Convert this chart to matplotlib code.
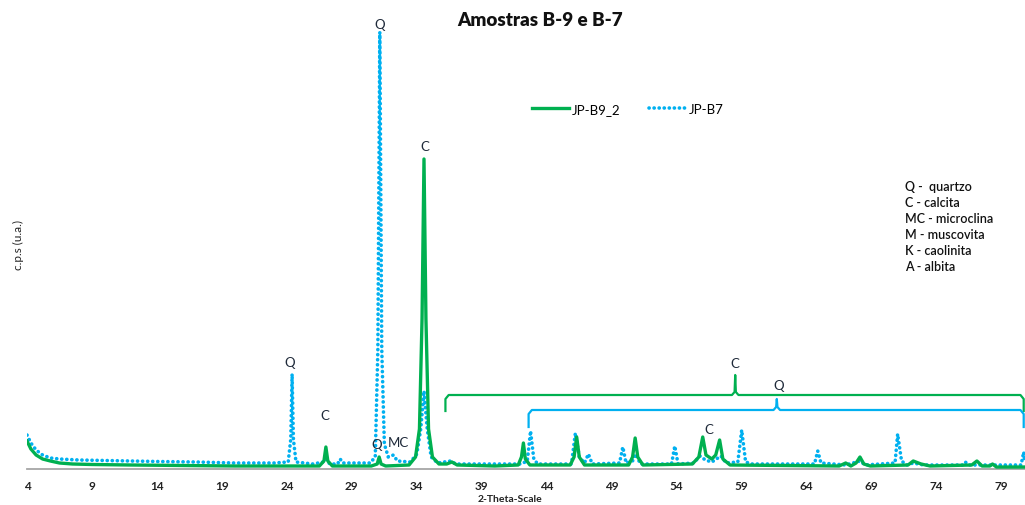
import matplotlib
matplotlib.use("Agg")
import matplotlib.pyplot as plt
import numpy as np

plt.rcParams['font.family'] = ['Lato', 'DejaVu Sans']

# JP-B9_2 trace (2-theta, intensity a.u.)
b9_theta = [4.0, 4.3, 4.7, 5.2, 5.8, 6.5, 7.5, 9, 12, 16, 20, 24, 26.5, 26.85, 27.0, 27.15, 27.5,
            30.5, 30.95, 31.1, 31.25, 31.6, 33.4, 33.9, 34.2, 34.4, 34.55, 34.7, 34.9, 35.2, 35.7,
            36.3, 36.7, 37.1, 40, 41.8, 42.05, 42.2, 42.35, 42.7, 45.8, 46.1, 46.3, 46.5, 46.9,
            50.3, 50.6, 50.8, 51.0, 51.4, 55.2, 55.7, 56.0, 56.25, 56.7, 57.0, 57.3, 57.55, 58.1,
            66.5, 67.0, 67.4, 67.8, 68.1, 68.4, 68.9, 71.8, 72.2, 72.8, 73.5, 76.7, 77.1, 77.5,
            78.1, 78.3, 78.6, 80.8]
b9_cps = [28, 20, 14, 10, 8, 6, 5, 4.5, 4, 3.5, 3, 3, 3, 8, 22, 8, 3,
          3, 5, 12, 5, 3, 4, 12, 40, 150, 310, 150, 40, 12, 5,
          5, 7, 4, 3, 4, 12, 26, 10, 4, 4, 12, 32, 12, 4,
          4, 12, 31, 12, 4, 5, 12, 32, 14, 10, 14, 29, 10, 4,
          3, 6, 3, 6, 12, 5, 3, 4, 8, 5, 3, 4, 8, 3,
          3, 5, 2, 2]

# JP-B7 trace
b7_theta = [4.0, 4.3, 4.7, 5.2, 5.8, 6.5, 8, 10, 12, 14, 17, 20, 23, 24.1, 24.3, 24.4, 24.5, 24.7,
            26, 26.8, 27.0, 27.3, 27.9, 28.1, 28.3, 30.4, 30.8, 31.0, 31.15, 31.3, 31.5, 31.8,
            32.2, 32.5, 33.5, 34.0, 34.3, 34.55, 34.8, 35.1, 35.6, 36.6, 37, 42.0, 42.5, 42.75,
            43.0, 43.3, 45.9, 46.2, 46.5, 46.9, 47.2, 47.5, 49.6, 49.85, 50.1, 50.6, 50.85, 51.2,
            53.6, 53.85, 54.1, 55.3, 55.8, 56.2, 56.7, 57.4, 57.8, 58.7, 59.0, 59.3, 59.8,
            64.6, 64.85, 65.1, 67, 68.1, 68.5, 70.8, 71.0, 71.3, 71.7, 72.2, 73, 76.0, 76.2,
            76.5, 80.5, 80.7, 80.8]
b7_cps = [34, 26, 19, 14, 11, 10, 9, 8.5, 8, 7.5, 7, 6, 6, 7, 30, 95, 30, 7,
          5, 7, 10, 5, 5, 10, 6, 6, 12, 120, 437, 120, 25, 12,
          14, 8, 7, 15, 40, 78, 40, 12, 6, 8, 5, 5, 8, 38,
          10, 5, 5, 36, 12, 6, 15, 5, 6, 22, 6, 8, 15, 5,
          5, 23, 5, 6, 13, 9, 7, 13, 6, 7, 39, 7, 5,
          5, 18, 6, 4, 8, 4, 6, 35, 8, 4, 6, 4, 4, 7,
          4, 4, 17, 6]

tick_vals = list(range(4, 80, 5))

# peak labels: (text, theta, height)
peak_labels = [("Q", 31.15, 445), ("C", 34.6, 323), ("Q", 24.25, 107), ("C", 26.9, 54),
               ("Q", 30.9, 25), ("MC", 32.6, 27), ("C", 56.5, 40), ("C", 58.46, 106),
               ("Q", 61.85, 84)]

# braces: (left, centre, right, bottom, line, tip, colour)
braces = [(36.2, 58.5, 80.7, 58, 74, 94, "#00b050"),
          (42.6, 61.7, 80.7, 42, 59, 70, "#00b0f0")]

minerals = ["Q -  quartzo", "C - calcita", "MC - microclina", "M - muscovita",
            "K - caolinita", "A - albita"]

green = "#00b050"
blue = "#00b0f0"

fig = plt.figure(figsize=(10.25, 5.06), dpi=100)
ax = fig.add_axes([27 / 1025, 1 - 470 / 506, 998 / 1025, 450 / 506])

ax.plot(b9_theta, b9_cps, color=green, lw=2.4, label="JP-B9_2", zorder=3)
ax.plot(b7_theta, b7_cps, color=blue, lw=2.6, linestyle=(0, (0.05, 1.35)),
        dash_capstyle="round", label="JP-B7", zorder=2)

for txt, x, y in peak_labels:
    ax.text(x, y, txt, ha="center", va="center", fontsize=9.5, color="#1f2a3a")

for x0, xc, x1, yb, yl, yt, col in braces:
    bx = [x0, x0, x0 + 0.25, xc - 0.25, xc - 0.05, xc, xc + 0.05, xc + 0.25, x1 - 0.25, x1, x1]
    by = [yb, yl - 4, yl, yl, yl + 3, yt, yl + 3, yl, yl, yl - 4, yb]
    ax.plot(bx, by, color=col, lw=1.6, solid_joinstyle="round", clip_on=False)

ax.set_xlim(4, 80.8)
ax.set_ylim(0, 450)
ax.set_xticks(tick_vals)
ax.set_xticklabels([str(v) for v in tick_vals], fontsize=8.5, fontweight="bold", color="#222222")
ax.tick_params(axis="x", length=0, pad=8)
ax.set_yticks([])
for s in ["top", "right", "left"]:
    ax.spines[s].set_visible(False)
ax.spines["bottom"].set_color("#a6a6a6")
ax.spines["bottom"].set_linewidth(1.3)

fig.text(510 / 1025, 1 - 500 / 506, "2-Theta-Scale", ha="center", va="center",
         fontsize=7.5, fontweight="bold", color="#222222")
fig.text(18 / 1025, 1 - 245 / 506, "c.p.s (u.a.)", ha="center", va="center",
         rotation=90, fontsize=8.5, color="#222222")
fig.text(540 / 1025, 1 - 20 / 506, "Amostras B-9 e B-7", ha="center", va="center",
         fontsize=13.5, fontweight="heavy", color="#111111")

fig.legend(loc="center", bbox_to_anchor=(628 / 1025, 1 - 110 / 506), ncol=2, frameon=False,
           fontsize=9.5, handlelength=2.8, columnspacing=2.2, handletextpad=0.2)

for i, m in enumerate(minerals):
    fig.text(905 / 1025, 1 - (187 + i * 16) / 506, m, ha="left", va="center",
             fontsize=9, fontweight="semibold", color="#111111")

fig.savefig("out.png", dpi=100)
